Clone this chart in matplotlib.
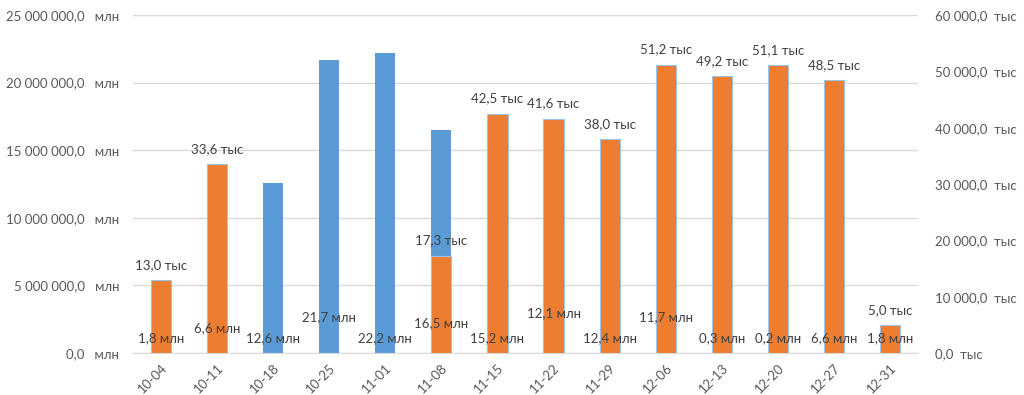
import matplotlib.pyplot as plt
from matplotlib.ticker import FuncFormatter

# data
dates = ['10-04', '10-11', '10-18', '10-25', '11-01', '11-08', '11-15',
         '11-22', '11-29', '12-06', '12-13', '12-20', '12-27', '12-31']
blue_mln = [1.8, 6.6, 12.6, 21.7, 22.2, 16.5, 15.2, 12.1, 12.4, 11.7, 0.3, 0.2, 6.6, 1.8]
orange_tys = [13.0, 33.6, 0, 0, 0, 17.3, 42.5, 41.6, 38.0, 51.2, 49.2, 51.1, 48.5, 5.0]

# label lift above the base for the blue labels (pixels)
blue_lift = [15, 25, 15, 36, 15, 30, 15, 40, 15, 36, 15, 15, 15, 15]

BLUE = '#5B9BD5'
ORANGE = '#ED7D31'
TXT = '#595959'
plt.rcParams['font.family'] = ['Lato', 'DejaVu Sans']

fig = plt.figure(figsize=(10.24, 3.95), dpi=100)
ax = fig.add_axes([133 / 1024, 1 - 353 / 395, 785 / 1024, 338 / 395])
ax2 = ax.twinx()

x = list(range(len(dates)))
w = 0.36
ax.bar(x, [v * 1e6 for v in blue_mln], width=w, color=BLUE, zorder=2)
ax2.bar(x, [v * 1e3 for v in orange_tys], width=w, color=ORANGE,
        edgecolor='#9DC3E6', linewidth=0.8, zorder=2)

ax.set_xlim(-0.5, len(dates) - 0.5)
ax.set_ylim(0, 25e6)
ax2.set_ylim(0, 60e3)
ax.set_yticks([i * 5e6 for i in range(6)])
ax2.set_yticks([i * 10e3 for i in range(7)])

def fmt_num(v):
    s = f'{v:,.1f}'.replace(',', ' ').replace('.', ',')
    return s

ax.yaxis.set_major_formatter(FuncFormatter(lambda v, p: fmt_num(v) + '   млн'))
ax2.yaxis.set_major_formatter(FuncFormatter(lambda v, p: fmt_num(v) + '  тыс'))

ax.grid(axis='y', color='#D9D9D9', linewidth=1, zorder=0)
ax.set_axisbelow(True)
for a in (ax, ax2):
    for s in a.spines.values():
        s.set_visible(False)
    a.tick_params(length=0, labelsize=9.5, labelcolor=TXT)
ax.spines['bottom'].set_visible(True)
ax.spines['bottom'].set_color('#D9D9D9')
ax.tick_params(axis='y', pad=10)
ax2.tick_params(axis='y', pad=12)

ax.set_xticks(x)
ax.set_xticklabels(dates, rotation=45, ha='right', rotation_mode='anchor')
ax.tick_params(axis='x', pad=6)

# labels (all on the top axes so the orange bars do not hide them)
for i in x:
    ax2.annotate(f'{blue_mln[i]:.1f} млн'.replace('.', ','), (i, 0),
                 xytext=(0, blue_lift[i]), textcoords='offset pixels',
                 ha='center', va='center', fontsize=9.5, color='#404040', zorder=5)
    if orange_tys[i] > 0:
        ax2.annotate(f'{orange_tys[i]:.1f} тыс'.replace('.', ','), (i, orange_tys[i] * 1e3),
                     xytext=(0, 15), textcoords='offset pixels',
                     ha='center', va='center', fontsize=9.5, color='#404040', zorder=5)

fig.savefig('out.png', dpi=100)
